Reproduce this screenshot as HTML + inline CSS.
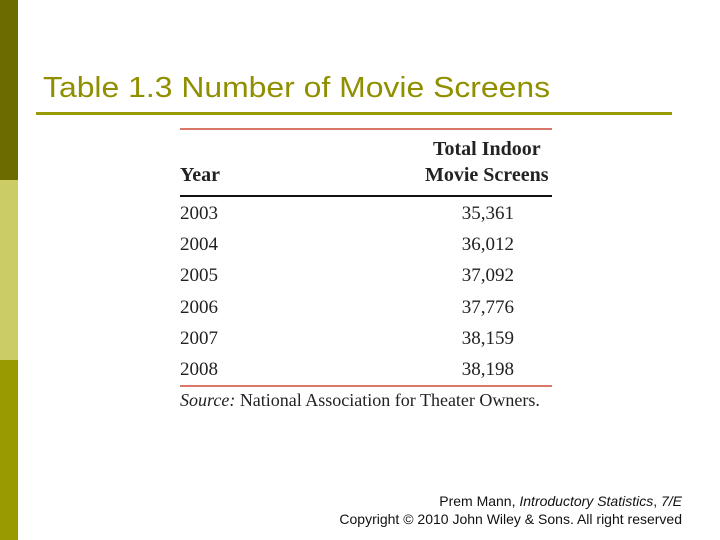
<!DOCTYPE html>
<html><head><meta charset="utf-8"><style>
body{margin:0;width:720px;height:540px;position:relative;background:#fff;overflow:hidden;font-family:"Liberation Sans",sans-serif}
.a{position:absolute;white-space:nowrap}
.s{font-family:"Liberation Serif",serif;font-size:19px;color:#222}
</style></head><body>
<div class="a" style="left:0;top:0;width:18px;height:180px;background:#6b6b00"></div>
<div class="a" style="left:0;top:180px;width:18px;height:180px;background:#cccc66"></div>
<div class="a" style="left:0;top:360px;width:18px;height:180px;background:#999900"></div>
<div class="a" style="left:43px;top:72px;font-size:29px;color:#8f8f00;transform:scaleX(1.1);transform-origin:left top">Table 1.3 Number of Movie Screens</div>
<div class="a" style="left:36px;top:112px;width:636px;height:3px;background:#999900"></div>
<div class="a" style="left:180px;top:128px;width:372px;height:2px;background:#d9786a"></div>
<div class="a s" style="left:433px;top:138px;font-weight:bold;font-size:20px">Total Indoor</div>
<div class="a s" style="left:180px;top:164px;font-weight:bold;font-size:20px">Year</div>
<div class="a s" style="left:425px;top:164px;font-weight:bold;font-size:20px">Movie Screens</div>
<div class="a" style="left:180px;top:195px;width:372px;height:2px;background:#111"></div>
<div id="rows"></div>
<div class="a" style="left:180px;top:385px;width:372px;height:2px;background:#d9786a"></div>
<div class="a s" style="left:180px;top:390px;font-size:18px"><i>Source:</i> National Association for Theater Owners.</div>
<div class="a" style="right:38px;top:492px;font-size:14px;text-align:right;line-height:18px;color:#111">Prem Mann, <i>Introductory Statistics</i>, <i>7/E</i><br>Copyright © 2010 John Wiley &amp; Sons. All right reserved</div>
<script>
const years=["2003","2004","2005","2006","2007","2008"];
const screens=[35361,36012,37092,37776,38159,38198];
const rows=document.getElementById('rows');
years.forEach((y,i)=>{
 const top=203+i*31.2;
 const a=document.createElement('div');a.className='a s';a.style.left='180px';a.style.top=top+'px';a.textContent=y;
 
 
 rows.appendChild(a);
 const b=document.createElement('div');b.className='a s';b.style.right=(720-514)+'px';b.style.top=top+'px';b.textContent=screens[i].toLocaleString('en-US');
 
 
 rows.appendChild(b);
});
</script>
</body></html>
